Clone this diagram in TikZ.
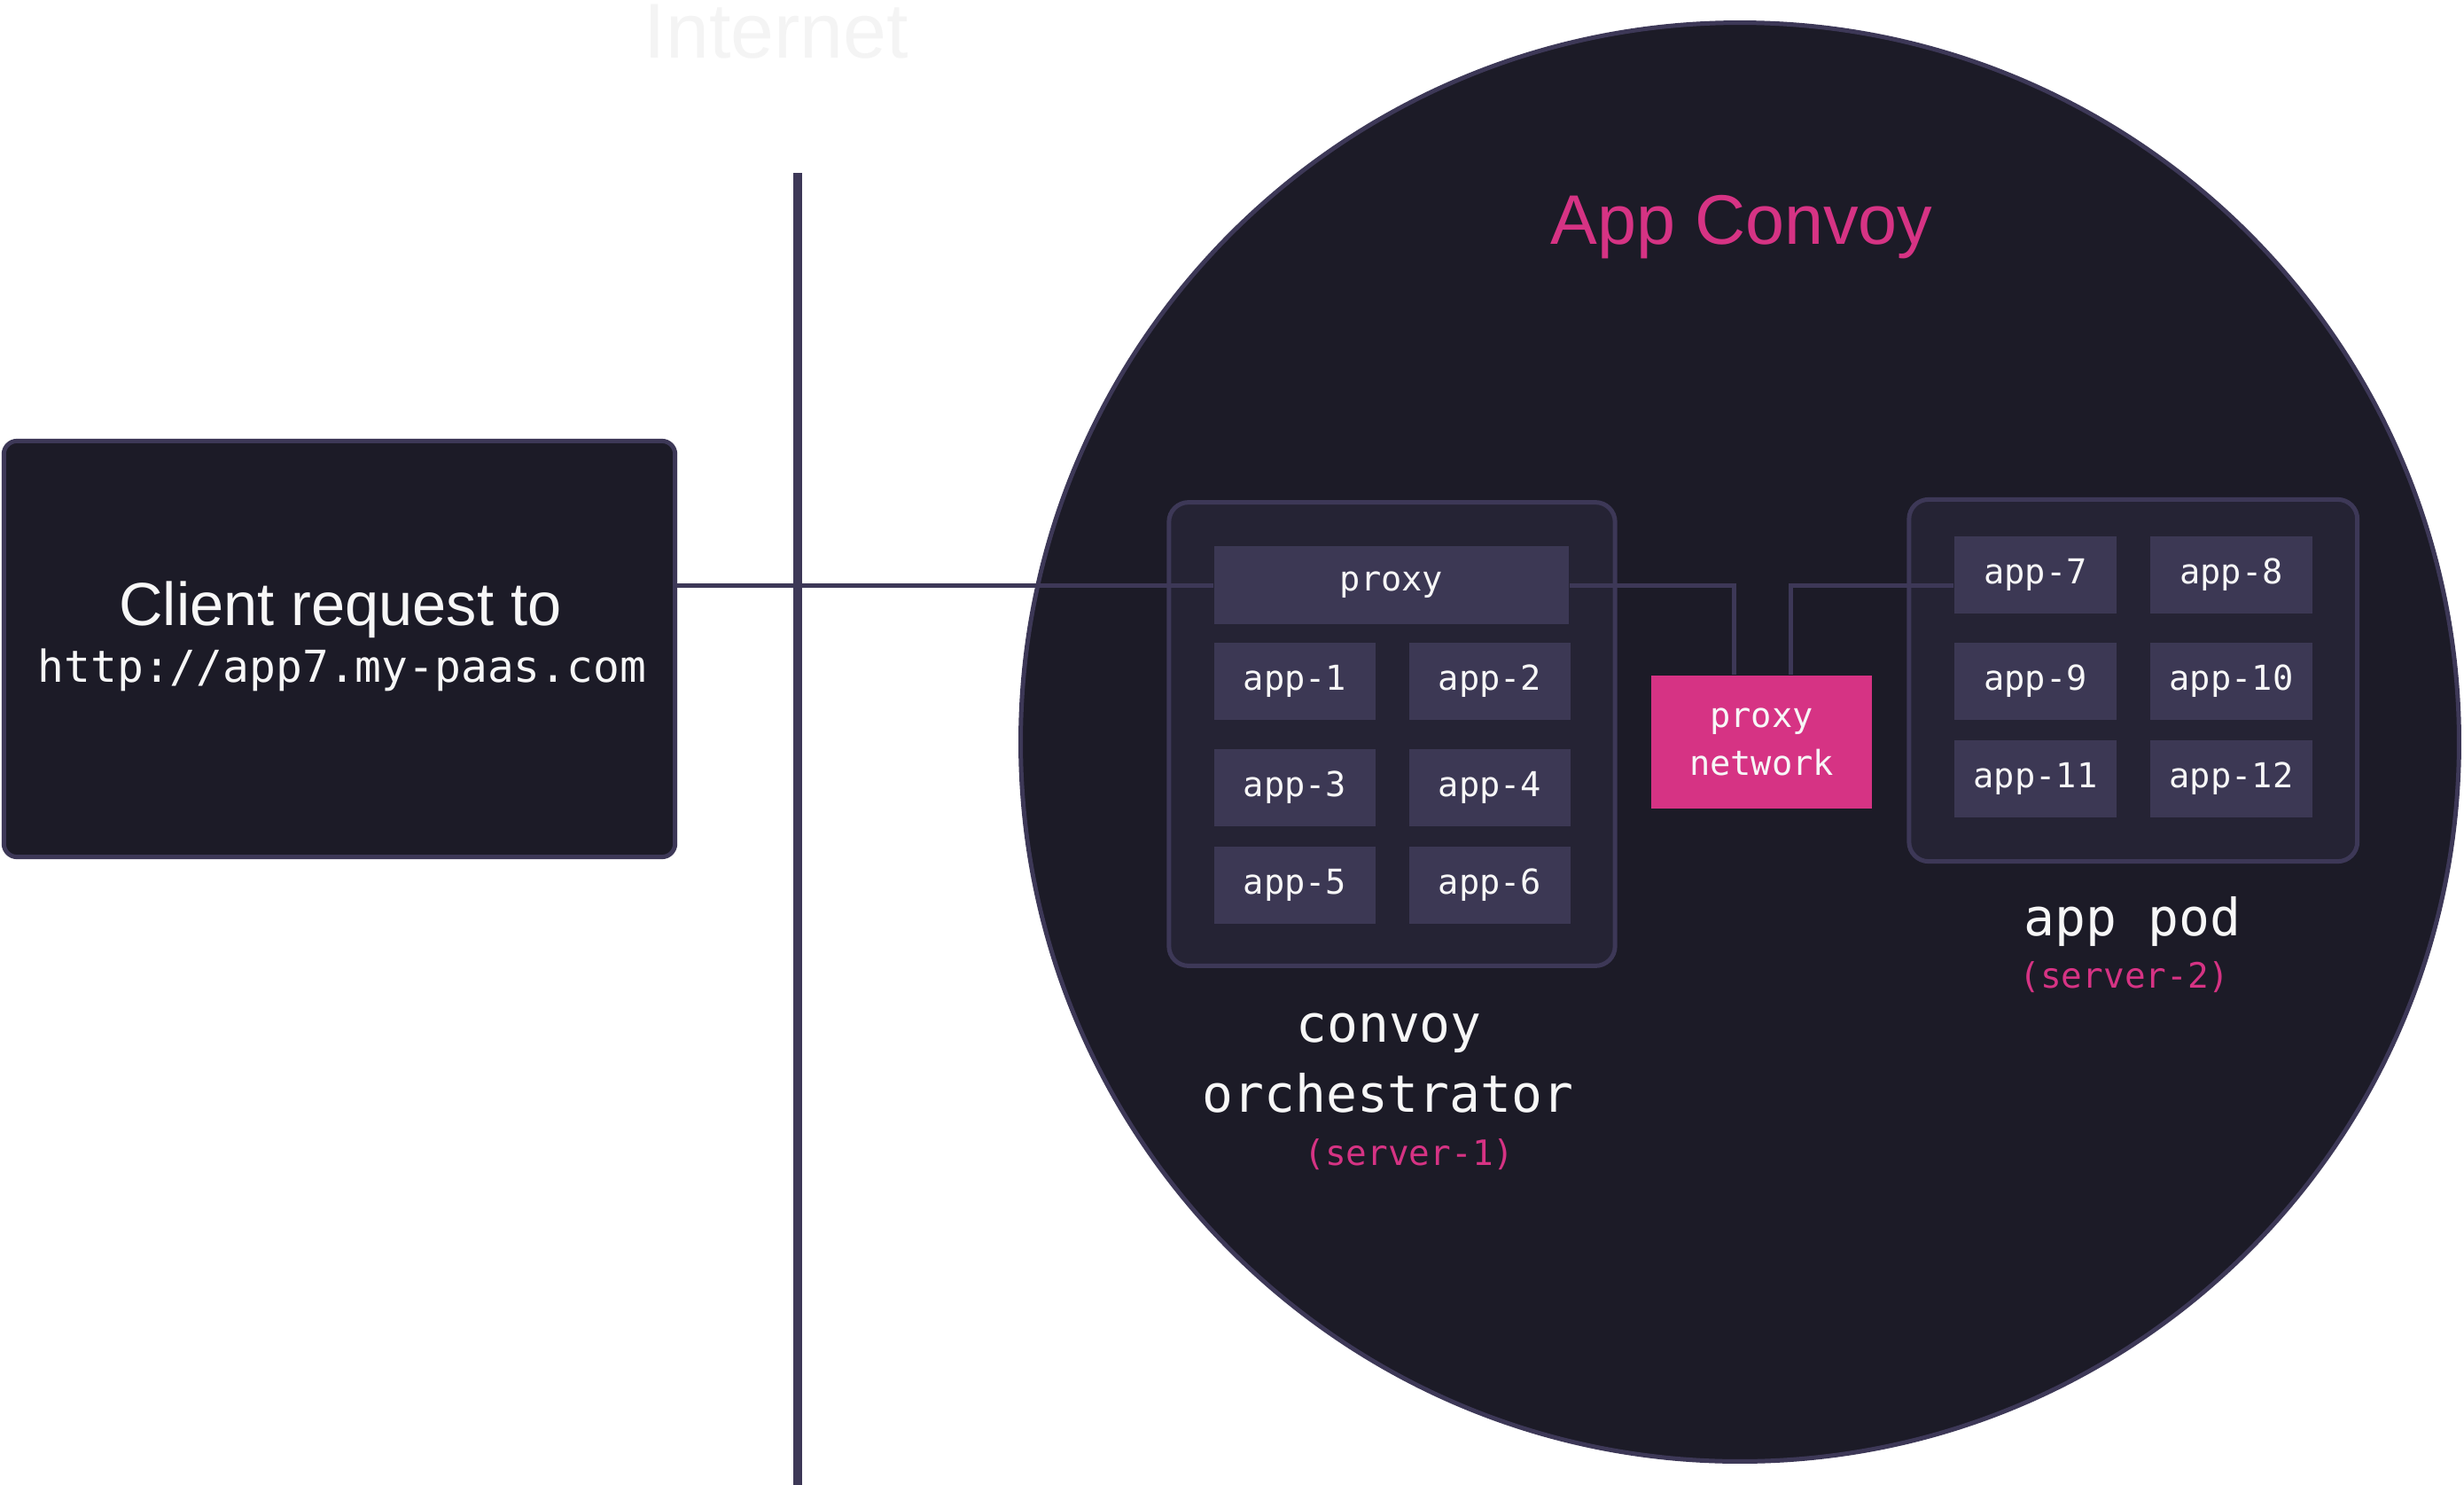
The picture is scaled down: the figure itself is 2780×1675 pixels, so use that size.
\documentclass[tikz,border=0pt]{standalone}
\usepackage{fontspec}
\setmainfont{Liberation Sans}
\newfontfamily\codefont{DejaVu Sans Mono}
\definecolor{bgdark}{HTML}{1C1B27}
\definecolor{hostfill}{HTML}{252334}
\definecolor{appfill}{HTML}{3C3854}
\definecolor{edge}{HTML}{3D3857}
\definecolor{pink}{HTML}{D63384}
\definecolor{txt}{HTML}{F7F7F7}
\definecolor{faint}{HTML}{F4F4F4}

\begin{document}
\begin{tikzpicture}[x=0.01cm, y=-0.01cm,
  dark/.style={fill=bgdark, draw=edge, line width=1.42pt, inner sep=0},
  host/.style={fill=hostfill, draw=edge, line width=1.42pt, rounded corners=0.22cm, inner sep=0},
  app/.style={fill=appfill, inner sep=0, minimum width=1.82cm, minimum height=0.87cm, text=txt, font=\codefont\fontsize{11}{13}\selectfont},
  link/.style={draw=edge, line width=1.42pt},
  caption/.style={anchor=base, text=txt, font=\codefont\fontsize{16.5}{20}\selectfont},
  server/.style={anchor=base, text=pink, font=\codefont\fontsize{11.2}{13}\selectfont}]
\useasboundingbox (0,0) rectangle (2780,1675);

\node[anchor=base, text=faint, font=\fontsize{25}{30}\selectfont] (internet) at (876,65) {Internet};
\node[circle, dark, minimum size=16.22cm] (convoy) at (1963,837) {};
\node[anchor=base, text=pink, font=\fontsize{22.5}{27}\selectfont] (title) at (1965,275) {App Convoy};

% client side
\node[dark, rounded corners=0.15cm, minimum width=7.57cm, minimum height=4.69cm] (client) at (383,732) {};
\node[anchor=base, text=txt, font=\fontsize{19.5}{23}\selectfont] (req) at (384,705) {Client request to};
\node[anchor=base, text=txt, font=\codefont\fontsize{14.1}{17}\selectfont] (url) at (386,769) {http://app7.my-paas.com};
\coordinate (divtop) at (900,195);
\coordinate (divbot) at (900,1675);
\draw[edge, line width=2.6pt] (divtop) -- (divbot);

% hosts
\node[host, minimum width=5.03cm, minimum height=5.225cm] (orch) at (1570.5,828) {};
\node[host, minimum width=5.055cm, minimum height=4.08cm] (pod) at (2406.75,767.5) {};

\node[app, minimum width=4cm, minimum height=0.88cm] (proxy) at (1570,660) {proxy};
\node[app] (a1) at (1461,768.5) {app-1};
\node[app] (a2) at (1681,768.5) {app-2};
\node[app] (a3) at (1461,888.5) {app-3};
\node[app] (a4) at (1681,888.5) {app-4};
\node[app] (a5) at (1461,998.5) {app-5};
\node[app] (a6) at (1681,998.5) {app-6};

\node[app, minimum width=1.83cm] (a7) at (2296.5,648.5) {app-7};
\node[app, minimum width=1.83cm] (a8) at (2517.5,648.5) {app-8};
\node[app, minimum width=1.83cm] (a9) at (2296.5,768.5) {app-9};
\node[app, minimum width=1.83cm] (a10) at (2517.5,768.5) {app-10};
\node[app, minimum width=1.83cm] (a11) at (2296.5,878.5) {app-11};
\node[app, minimum width=1.83cm] (a12) at (2517.5,878.5) {app-12};

\node[app, fill=pink, minimum width=2.49cm, minimum height=1.5cm, align=center,
  font=\codefont\fontsize{11}{15.4}\selectfont] (pnet) at (1987.5,837) {proxy\\network};

% connectors
\draw[link] (client.east |- proxy.west) -- (proxy.west);
\draw[link] (proxy.east) -| ([xshift=-0.305cm]pnet.north);
\draw[link] ([xshift=0.325cm]pnet.north) |- ([yshift=-0.115cm]a7.west);

% captions
\node[caption] (orchname) at (1567,1175) {convoy};
\node[caption] (orchname2) at (1566,1254) {orchestrator};
\node[server] (srv1) at (1590,1314) {(server-1)};
\node[caption] (podname) at (2406,1055) {app pod};
\node[server] (srv2) at (2397,1114) {(server-2)};
\end{tikzpicture}
\end{document}
